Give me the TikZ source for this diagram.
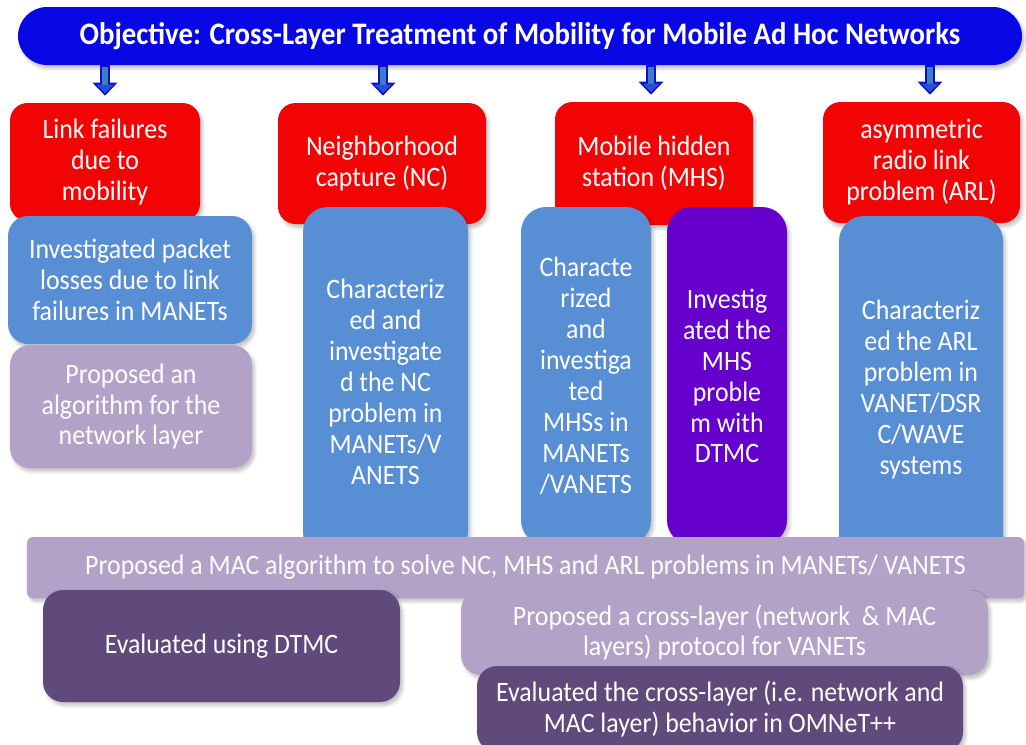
\documentclass[tikz,border=0pt]{standalone}
\usepackage{fontspec}
\setmainfont{Carlito}[FakeStretch=0.92]
\usetikzlibrary{arrows.meta,shadows.blur}

\definecolor{objblue}{RGB}{8,8,228}
\definecolor{issuered}{RGB}{242,4,4}
\definecolor{workblue}{RGB}{88,142,212}
\definecolor{mhsviolet}{RGB}{102,0,204}
\definecolor{lavender}{RGB}{178,162,199}
\definecolor{plum}{RGB}{96,74,123}
\definecolor{shaftblue}{RGB}{60,125,195}
\definecolor{edgeblue}{RGB}{15,15,200}
\definecolor{headblue}{RGB}{40,80,215}

\begin{document}
\begin{tikzpicture}[
    font=\fontsize{16}{17.6}\selectfont,
    every node/.style={text=white, align=center, inner sep=2pt},
    box/.style={rounded corners=0.4cm, blur shadow={shadow xshift=0.05cm, shadow yshift=-0.07cm, shadow opacity=25}},
    objbox/.style={box, fill=objblue, rounded corners=0.58cm, font=\fontsize{17.8}{19}\selectfont\bfseries},
    issuebox/.style={box, fill=issuered, rounded corners=0.35cm},
    workbox/.style={box, fill=workblue},
    mhsbox/.style={box, fill=mhsviolet},
    propbox/.style={box, fill=lavender},
    evalbox/.style={box, fill=plum},
    tallbox/.style={rounded corners=0.5cm},
    arrowrim/.style={draw=edgeblue, line width=0.2cm, -{Triangle[width=0.5cm, length=0.26cm, line width=0pt]}},
    arrowcore/.style={draw=shaftblue, line width=0.12cm, shorten >=0.05cm, shorten <=0.03cm, -{Triangle[width=0.34cm, length=0.17cm, line width=0pt, color=headblue]}}
]
    \useasboundingbox (0,0) rectangle (20.52,-14.88);

    % Objective banner
    \node[objbox, minimum width=20.08cm, minimum height=1.16cm] (title) at (10.4,-0.72) {Objective: Cross-Layer Treatment of Mobility for Mobile Ad Hoc Networks};

    % Mobility problems
    \node[issuebox, minimum width=3.8cm, minimum height=2.36cm] (link) at (2.1,-3.24) {Link failures\\due to\\mobility};
    \node[issuebox, minimum width=4.16cm, minimum height=2.42cm] (nc) at (7.64,-3.27) {Neighborhood\\capture (NC)};
    \node[issuebox, minimum width=3.96cm, minimum height=2.46cm] (mhs) at (13.08,-3.27) {Mobile hidden\\station (MHS)};
    \node[issuebox, minimum width=3.94cm, minimum height=2.42cm] (arl) at (18.43,-3.25) {asymmetric\\radio link\\problem (ARL)};

    % Arrows from the objective
    \foreach \p/\dx in {link/0,nc/0.02,mhs/-0.06,arl/0.17}{
        \draw[arrowrim] ([xshift=\dx cm]title.south -| \p.north) -- ([xshift=\dx cm, yshift=0.14cm]\p.north);
        \draw[arrowcore] ([xshift=\dx cm]title.south -| \p.north) -- ([xshift=\dx cm, yshift=0.14cm]\p.north);
    }

    % Studies of each problem (lower ends run on behind the MAC bar)
    \node[workbox, minimum width=4.88cm, minimum height=2.56cm] (loss) at (2.6,-5.6) {Investigated packet\\losses due to link\\failures in MANETs};
    \node[workbox, tallbox, minimum width=3.3cm, minimum height=7.0cm] (ncstudy) at (7.71,-7.64) {Characteriz\\ed and\\investigate\\d the NC\\problem in\\MANETs/V\\ANETS};
    \node[workbox, tallbox, minimum width=2.6cm, minimum height=6.76cm] (mhsstudy) at (11.72,-7.52) {Characte\\rized\\and\\investiga\\ted\\MHSs in\\MANETs\\/VANETS};
    \node[mhsbox, tallbox, minimum width=2.4cm, minimum height=6.76cm] (mhsdtmc) at (14.54,-7.52) {Investig\\ated the\\MHS\\proble\\m with\\DTMC};
    \node[workbox, tallbox, minimum width=3.28cm, minimum height=6.94cm] (arlstudy) at (18.42,-7.79) {Characteriz\\ed the ARL\\problem in\\VANET/DSR\\C/WAVE\\systems};

    % Network layer proposal
    \node[propbox, minimum width=4.84cm, minimum height=2.46cm] (netalg) at (2.62,-8.13) {Proposed an\\algorithm for the\\network layer};

    % MAC proposal
    \node[propbox, minimum width=19.94cm, minimum height=1.22cm, rounded corners=0.12cm] (macalg) at (10.51,-11.35) {Proposed a MAC algorithm to solve NC, MHS and ARL problems in MANETs/ VANETS};

    % Evaluations
    \node[evalbox, minimum width=7.14cm, minimum height=2.24cm] (dtmc) at (4.43,-12.92) {Evaluated using DTMC};
    \node[propbox, minimum width=10.54cm, minimum height=1.7cm] (xlayer) at (14.49,-12.65) {Proposed a cross-layer (network\ \ \& MAC\\layers) protocol for VANETs};
    \node[evalbox, minimum width=9.72cm, minimum height=1.72cm] (omnet) at (14.4,-14.18) {Evaluated the cross-layer (i.e. network and\\MAC layer) behavior in OMNeT++};
\end{tikzpicture}
\end{document}
